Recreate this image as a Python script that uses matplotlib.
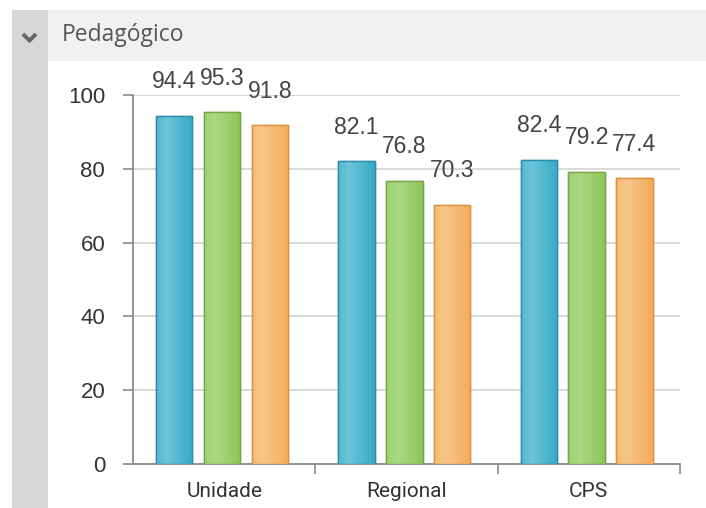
import numpy as np
import matplotlib
matplotlib.use("Agg")
import matplotlib.pyplot as plt
from matplotlib.patches import Rectangle
from matplotlib.colors import to_rgb

# data
categories = ["Unidade", "Regional", "CPS"]
serie_a = [94.4, 82.1, 82.4]
serie_b = [95.3, 76.8, 79.2]
serie_c = [91.8, 70.3, 77.4]
y_ticks = [0, 20, 40, 60, 80, 100]
title = "Pedagógico"

colors = ["#36aac6", "#8dc55a", "#f4ac58"]
lights = ["#6cc4da", "#acd884", "#f8c68a"]
edges = ["#2a8ea8", "#73a845", "#d99340"]

plt.rcParams['font.family'] = ['Liberation Sans', 'DejaVu Sans']

W, H = 706, 508
fig = plt.figure(figsize=(W / 100, H / 100), dpi=100)
fig.patch.set_facecolor("white")

# panel decoration: left strip + header band
fig.patches.append(Rectangle((12 / W, 0), 36 / W, 1 - 10 / H, transform=fig.transFigure,
                             facecolor="#d7d7d7", edgecolor="none", zorder=0))
fig.patches.append(Rectangle((48 / W, 1 - 61 / H), 1 - 48 / W, 51 / H, transform=fig.transFigure,
                             facecolor="#f1f1f1", edgecolor="none", zorder=0))
# chevron
fig.add_artist(plt.Line2D([23 / W, 29.5 / W, 36 / W], [1 - 34 / H, 1 - 40.5 / H, 1 - 34 / H],
                          transform=fig.transFigure, color="#666666", lw=2.8,
                          solid_capstyle="butt", solid_joinstyle="miter"))
fig.text(62 / W, 1 - 35 / H, title, family=['Open Sans', 'DejaVu Sans'], fontsize=16.5,
         color="#555555", va="center", ha="left")

ax = fig.add_axes([133 / W, 1 - 464 / H, 547 / W, 369 / H])
x = np.arange(len(categories))
width = 0.2
step = 0.262
shift = -0.012


def shade(c1, c2):
    # horizontal gradient: light near left third, base colour at edges
    a, b = np.array(to_rgb(c1)), np.array(to_rgb(c2))
    t = np.linspace(0, 1, 40)
    w = np.clip(1 - np.abs(t - 0.3) / 0.7, 0, 1)[:, None]
    return (b * (1 - w) + a * w)[None, :, :]


for i, vals in enumerate([serie_a, serie_b, serie_c]):
    xs = x + (i - 1) * step + shift
    bars = ax.bar(xs, vals, width, color=colors[i], edgecolor=edges[i], linewidth=1.0, zorder=3)
    grad = shade(lights[i], colors[i])
    for b in bars:
        bx, by = b.get_x(), b.get_y()
        im = ax.imshow(grad, extent=(bx, bx + b.get_width(), by, by + b.get_height()),
                       aspect="auto", zorder=3.5, interpolation="bilinear")
        im.set_clip_path(b)
        ax.bar(b.get_x() + b.get_width() / 2, b.get_height(), b.get_width(), fill=False,
               edgecolor=edges[i], linewidth=1.0, zorder=3.6)
    for xi, v in zip(xs, vals):
        ax.annotate(f"{v}", (xi, v), xytext=(0, 24.5), textcoords="offset points",
                    ha="center", va="center", fontsize=16.5, color="#444444", zorder=4)

ax.set_xlim(-0.5, 2.5)
ax.set_ylim(0, 100)
ax.set_yticks(y_ticks)
ax.grid(axis="y", color="#d2d2d2", lw=1.2, zorder=0)
ax.set_axisbelow(True)

for s in ["top", "right"]:
    ax.spines[s].set_visible(False)
for s in ["left", "bottom"]:
    ax.spines[s].set_color("#8a8a8a")
    ax.spines[s].set_linewidth(1.3)

ax.tick_params(axis="y", length=7, width=1.2, color="#8a8a8a", pad=13,
               labelsize=16, labelcolor="#333333")
ax.set_xticks(x)
ax.set_xticklabels(categories, family=['Roboto', 'Liberation Sans'])
ax.tick_params(axis="x", which="major", length=0, pad=13, labelsize=15, labelcolor="#333333")
ax.set_xticks([0.5, 1.5, 2.5], minor=True)
ax.tick_params(axis="x", which="minor", length=7, width=1.2, color="#8a8a8a")

fig.savefig("out.png", dpi=100)
